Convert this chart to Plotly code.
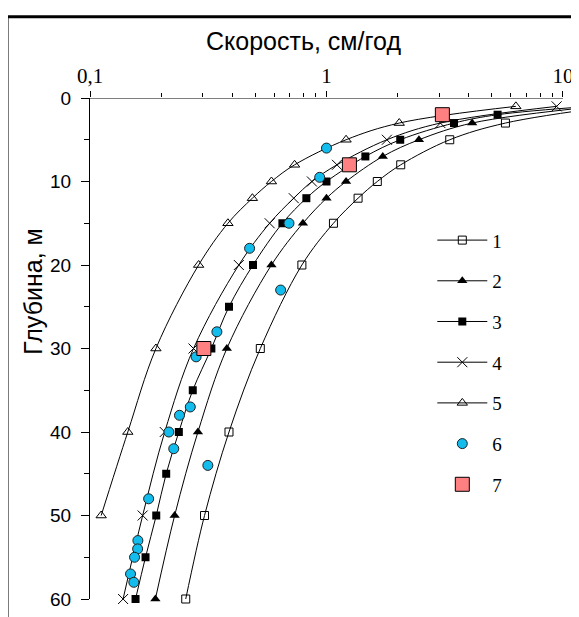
import plotly.graph_objects as go

# ---- data (velocity cm/year, depth m) ----
s1_depth = [1, 3, 5, 8, 10, 12, 15, 20, 30, 40, 50, 60]
s1_vel = [16.0, 5.71, 3.32, 2.06, 1.64, 1.36, 1.07, 0.787, 0.525, 0.387, 0.305, 0.254]

s2_depth = [1, 3, 5, 7, 10, 12, 15, 20, 30, 40, 50, 60]
s2_vel = [14.0, 4.13, 2.46, 1.73, 1.21, 1.0, 0.795, 0.585, 0.379, 0.286, 0.228, 0.189]

s3_depth = [1, 2, 3, 5, 7, 10, 12, 15, 20, 25, 30, 35, 40, 45, 50, 55, 60]
s3_vel = [13.0, 5.29, 3.46, 2.05, 1.46, 1.0, 0.822, 0.651, 0.489, 0.387, 0.326, 0.272,
          0.2375, 0.210, 0.1906, 0.1717, 0.1558]

s4_depth = [1, 3, 5, 8, 10, 12, 15, 20, 30, 40, 50, 60]
s4_vel = [9.4, 3.03, 1.80, 1.107, 0.868, 0.727, 0.575, 0.426, 0.274, 0.207, 0.167, 0.138]

s5_depth = [1, 3, 5, 8, 10, 12, 15, 20, 30, 40, 50]
s5_vel = [6.32, 2.03, 1.21, 0.733, 0.585, 0.486, 0.383, 0.288, 0.19, 0.1445, 0.1115]

s6_depth = [6, 9.5, 15, 18, 23, 28, 31, 37, 38, 40, 42, 44, 48, 53, 54, 55, 57, 58]
s6_vel = [1.0, 0.936, 0.694, 0.473, 0.640, 0.344, 0.281, 0.2655, 0.239, 0.2155, 0.226,
          0.315, 0.177, 0.1594, 0.159, 0.1543, 0.1484, 0.1532]

s7_depth = [2, 8, 30]
s7_vel = [3.09, 1.25, 0.303]

names = ["1", "2", "3", "4", "5", "6", "7"]
x_ticks = [0.1, 1, 10]
x_ticktext = ["0,1", "1", "10"]
x_minor = [0.2, 0.3, 0.4, 0.5, 0.6, 0.7, 0.8, 0.9, 2, 3, 4, 5, 6, 7, 8, 9]
y_ticks = [0, 10, 20, 30, 40, 50, 60]
y_minor = [5, 15, 25, 35, 45, 55]

X_MIN, X_MAX_LOG = 0.1, 1.0677
X_AXIS_END = 10

line_style = dict(color="black", width=1, shape="spline", smoothing=1)

fig = go.Figure()

line_series = [
    (s1_vel, s1_depth, dict(symbol="square-open", size=8, color="black", line=dict(width=1, color="black"))),
    (s2_vel, s2_depth, dict(symbol="triangle-up", size=9, color="black")),
    (s3_vel, s3_depth, dict(symbol="square", size=8, color="black")),
    (s4_vel, s4_depth, dict(symbol="x-thin-open", size=10, color="black", line=dict(width=1, color="black"))),
    (s5_vel, s5_depth, dict(symbol="triangle-up-open", size=9, color="black", line=dict(width=1, color="black"))),
]
for i, (xv, yv, mk) in enumerate(line_series):
    fig.add_trace(go.Scatter(x=xv, y=yv, mode="lines+markers", name=names[i],
                             line=line_style, marker=mk, cliponaxis=False,
                             legendgroup=names[i]))

fig.add_trace(go.Scatter(x=s6_vel, y=s6_depth, mode="markers", name=names[5],
                         marker=dict(symbol="circle", size=10, color="#12BDEE",
                                     line=dict(width=1, color="#202020")),
                         cliponaxis=False, legendgroup=names[5]))
fig.add_trace(go.Scatter(x=s7_vel, y=s7_depth, mode="markers", name=names[6],
                         marker=dict(symbol="square", size=14, color="#FF8080",
                                     line=dict(width=1, color="black")),
                         cliponaxis=False, legendgroup=names[6]))

fig.update_xaxes(type="log", side="top", range=[-1, X_MAX_LOG],
                 tickmode="array", tickvals=x_ticks, ticktext=x_ticktext,
                 ticks="outside", ticklen=6, tickcolor="black", tickwidth=1,
                 tickfont=dict(family="Liberation Serif", size=21, color="black"),
                 minor=dict(tickmode="array", tickvals=x_minor, ticks="outside",
                            ticklen=4, tickcolor="black", tickwidth=1, showgrid=False),
                 showgrid=False, zeroline=False, showline=False)
fig.update_yaxes(range=[60, 0], tickmode="array", tickvals=y_ticks,
                 ticks="outside", ticklen=8, tickcolor="black", tickwidth=1,
                 tickfont=dict(family="Liberation Sans", size=19, color="black"),
                 minor=dict(tickmode="array", tickvals=y_minor, ticks="outside",
                            ticklen=5, tickcolor="black", tickwidth=1, showgrid=False),
                 showgrid=False, zeroline=False, showline=True, linecolor="black",
                 linewidth=1, ticklabelstandoff=6)

# top axis line from 0.1 to 10
fig.add_shape(type="line", xref="x", yref="y", x0=X_MIN, x1=X_AXIS_END, y0=0, y1=0,
              line=dict(color="black", width=1))
# outer frame
fig.add_shape(type="rect", xref="paper", yref="paper", x0=-0.1697, x1=1.2,
              y0=-0.3, y1=1.1623, line=dict(color="black", width=3))

fig.add_annotation(text="Скорость, см/год", xref="paper", yref="paper",
                   x=0.4376, y=1.1138, xanchor="center", yanchor="middle",
                   showarrow=False, font=dict(family="Liberation Sans", size=25, color="black"))
fig.add_annotation(text="Глубина, м", xref="paper", yref="paper",
                   x=-0.1166, y=0.615, xanchor="center", yanchor="middle", textangle=-90,
                   showarrow=False, font=dict(family="Liberation Sans", size=25, color="black"))

fig.update_layout(width=571, height=609, margin=dict(l=82, r=0, t=90, b=18),
                  paper_bgcolor="white", plot_bgcolor="white",
                  showlegend=True,
                  legend=dict(x=0.70, y=0.754, xanchor="left", yanchor="top",
                              bgcolor="rgba(0,0,0,0)", tracegroupgap=13,
                              itemwidth=50,
                              font=dict(family="Liberation Serif", size=19, color="black")))

fig.write_html("out.html")
